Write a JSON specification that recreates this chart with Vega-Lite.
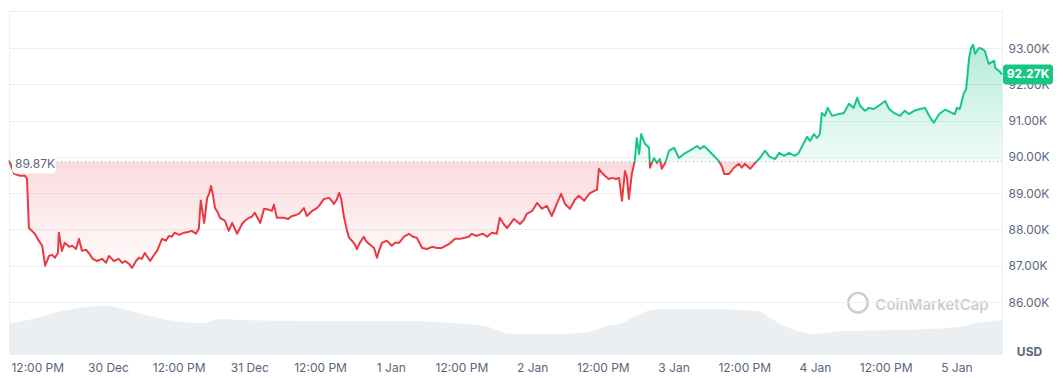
{
  "$schema": "https://vega.github.io/schema/vega-lite/v6.json",
  "padding": {"left": 7, "top": 10, "right": 0, "bottom": 0},
  "spacing": 0,
  "bounds": "flush",
  "background": "white",
  "config": {
    "view": {"stroke": "#eceff2"},
    "font": "Inter"
  },
  "datasets": {
    "price": [
      {"t":"2024-12-29T07:12:00Z","p":89.90},{"t":"2024-12-29T08:05:00Z","p":89.53},{"t":"2024-12-29T09:05:00Z","p":89.48},{"t":"2024-12-29T09:55:00Z","p":89.48},{"t":"2024-12-29T10:15:00Z","p":89.39},{"t":"2024-12-29T10:35:00Z","p":88.04},{"t":"2024-12-29T11:05:00Z","p":87.96},{"t":"2024-12-29T11:35:00Z","p":87.88},{"t":"2024-12-29T12:15:00Z","p":87.69},{"t":"2024-12-29T12:50:00Z","p":87.55},{"t":"2024-12-29T13:20:00Z","p":87.00},{"t":"2024-12-29T14:00:00Z","p":87.27},{"t":"2024-12-29T14:30:00Z","p":87.30},{"t":"2024-12-29T15:00:00Z","p":87.22},{"t":"2024-12-29T15:30:00Z","p":87.35},{"t":"2024-12-29T15:40:00Z","p":87.91},{"t":"2024-12-29T16:10:00Z","p":87.41},{"t":"2024-12-29T16:40:00Z","p":87.63},{"t":"2024-12-29T17:25:00Z","p":87.52},{"t":"2024-12-29T17:55:00Z","p":87.55},{"t":"2024-12-29T18:35:00Z","p":87.46},{"t":"2024-12-29T19:05:00Z","p":87.74},{"t":"2024-12-29T19:35:00Z","p":87.41},{"t":"2024-12-29T20:15:00Z","p":87.44},{"t":"2024-12-29T20:45:00Z","p":87.35},{"t":"2024-12-29T21:25:00Z","p":87.19},{"t":"2024-12-29T22:10:00Z","p":87.13},{"t":"2024-12-29T23:00:00Z","p":87.19},{"t":"2024-12-29T23:40:00Z","p":87.08},
      {"t":"2024-12-30T00:10:00Z","p":87.27},{"t":"2024-12-30T01:00:00Z","p":87.13},{"t":"2024-12-30T01:50:00Z","p":87.19},{"t":"2024-12-30T02:25:00Z","p":87.08},{"t":"2024-12-30T02:55:00Z","p":87.13},{"t":"2024-12-30T03:35:00Z","p":87.05},{"t":"2024-12-30T04:05:00Z","p":86.94},{"t":"2024-12-30T04:45:00Z","p":87.13},{"t":"2024-12-30T05:15:00Z","p":87.22},{"t":"2024-12-30T05:45:00Z","p":87.19},{"t":"2024-12-30T06:15:00Z","p":87.35},{"t":"2024-12-30T07:10:00Z","p":87.13},{"t":"2024-12-30T07:50:00Z","p":87.30},{"t":"2024-12-30T08:20:00Z","p":87.41},{"t":"2024-12-30T09:10:00Z","p":87.74},{"t":"2024-12-30T09:50:00Z","p":87.69},{"t":"2024-12-30T10:20:00Z","p":87.82},{"t":"2024-12-30T10:50:00Z","p":87.80},{"t":"2024-12-30T11:20:00Z","p":87.91},{"t":"2024-12-30T12:05:00Z","p":87.85},{"t":"2024-12-30T12:55:00Z","p":87.91},{"t":"2024-12-30T13:35:00Z","p":87.93},{"t":"2024-12-30T14:15:00Z","p":87.96},{"t":"2024-12-30T14:55:00Z","p":87.88},{"t":"2024-12-30T15:25:00Z","p":88.02},{"t":"2024-12-30T15:45:00Z","p":88.79},{"t":"2024-12-30T16:20:00Z","p":88.18},{"t":"2024-12-30T16:50:00Z","p":88.87},{"t":"2024-12-30T17:10:00Z","p":88.98},{"t":"2024-12-30T17:30:00Z","p":89.20},{"t":"2024-12-30T17:50:00Z","p":88.93},{"t":"2024-12-30T18:10:00Z","p":88.59},{"t":"2024-12-30T18:40:00Z","p":88.46},{"t":"2024-12-30T19:00:00Z","p":88.32},{"t":"2024-12-30T19:50:00Z","p":88.24},{"t":"2024-12-30T20:30:00Z","p":87.96},{"t":"2024-12-30T21:05:00Z","p":88.18},{"t":"2024-12-30T21:55:00Z","p":87.88},{"t":"2024-12-30T22:45:00Z","p":88.15},{"t":"2024-12-30T23:15:00Z","p":88.24},{"t":"2024-12-30T23:55:00Z","p":88.32},
      {"t":"2024-12-31T00:25:00Z","p":88.35},{"t":"2024-12-31T00:55:00Z","p":88.46},{"t":"2024-12-31T01:30:00Z","p":88.29},{"t":"2024-12-31T01:50:00Z","p":88.18},{"t":"2024-12-31T02:30:00Z","p":88.57},{"t":"2024-12-31T03:20:00Z","p":88.54},{"t":"2024-12-31T03:50:00Z","p":88.51},{"t":"2024-12-31T04:10:00Z","p":88.68},{"t":"2024-12-31T04:40:00Z","p":88.32},{"t":"2024-12-31T05:50:00Z","p":88.32},{"t":"2024-12-31T06:35:00Z","p":88.29},{"t":"2024-12-31T07:15:00Z","p":88.37},{"t":"2024-12-31T07:55:00Z","p":88.40},{"t":"2024-12-31T08:25:00Z","p":88.43},{"t":"2024-12-31T09:15:00Z","p":88.59},{"t":"2024-12-31T09:45:00Z","p":88.37},{"t":"2024-12-31T10:40:00Z","p":88.51},{"t":"2024-12-31T11:20:00Z","p":88.57},{"t":"2024-12-31T11:50:00Z","p":88.65},{"t":"2024-12-31T12:40:00Z","p":88.84},{"t":"2024-12-31T13:30:00Z","p":88.87},{"t":"2024-12-31T14:00:00Z","p":88.79},{"t":"2024-12-31T14:20:00Z","p":88.70},{"t":"2024-12-31T14:50:00Z","p":88.82},{"t":"2024-12-31T15:15:00Z","p":89.01},{"t":"2024-12-31T15:35:00Z","p":88.84},{"t":"2024-12-31T16:05:00Z","p":88.32},{"t":"2024-12-31T16:35:00Z","p":87.96},{"t":"2024-12-31T16:55:00Z","p":87.77},{"t":"2024-12-31T17:25:00Z","p":87.69},{"t":"2024-12-31T17:55:00Z","p":87.58},{"t":"2024-12-31T18:15:00Z","p":87.46},{"t":"2024-12-31T18:45:00Z","p":87.63},{"t":"2024-12-31T19:25:00Z","p":87.80},{"t":"2024-12-31T19:45:00Z","p":87.69},{"t":"2024-12-31T20:20:00Z","p":87.60},{"t":"2024-12-31T21:10:00Z","p":87.49},{"t":"2024-12-31T21:40:00Z","p":87.22},{"t":"2024-12-31T22:00:00Z","p":87.41},{"t":"2024-12-31T22:30:00Z","p":87.63},{"t":"2024-12-31T23:20:00Z","p":87.69},
      {"t":"2025-01-01T00:10:00Z","p":87.55},{"t":"2025-01-01T00:45:00Z","p":87.63},{"t":"2025-01-01T01:25:00Z","p":87.63},{"t":"2025-01-01T02:15:00Z","p":87.80},{"t":"2025-01-01T03:05:00Z","p":87.88},{"t":"2025-01-01T03:45:00Z","p":87.80},{"t":"2025-01-01T04:25:00Z","p":87.77},{"t":"2025-01-01T05:20:00Z","p":87.49},{"t":"2025-01-01T06:10:00Z","p":87.46},{"t":"2025-01-01T07:00:00Z","p":87.52},{"t":"2025-01-01T07:50:00Z","p":87.49},{"t":"2025-01-01T08:40:00Z","p":87.49},{"t":"2025-01-01T09:55:00Z","p":87.60},{"t":"2025-01-01T10:55:00Z","p":87.74},{"t":"2025-01-01T11:45:00Z","p":87.74},{"t":"2025-01-01T12:35:00Z","p":87.77},{"t":"2025-01-01T13:15:00Z","p":87.80},{"t":"2025-01-01T13:45:00Z","p":87.88},{"t":"2025-01-01T14:30:00Z","p":87.82},{"t":"2025-01-01T15:00:00Z","p":87.85},{"t":"2025-01-01T15:40:00Z","p":87.88},{"t":"2025-01-01T16:20:00Z","p":87.80},{"t":"2025-01-01T17:10:00Z","p":87.91},{"t":"2025-01-01T18:00:00Z","p":87.88},{"t":"2025-01-01T18:30:00Z","p":88.32},{"t":"2025-01-01T19:15:00Z","p":88.13},{"t":"2025-01-01T19:45:00Z","p":88.04},{"t":"2025-01-01T20:25:00Z","p":88.18},{"t":"2025-01-01T20:55:00Z","p":88.29},{"t":"2025-01-01T21:55:00Z","p":88.15},{"t":"2025-01-01T22:35:00Z","p":88.26},{"t":"2025-01-01T23:05:00Z","p":88.43},
      {"t":"2025-01-02T00:00:00Z","p":88.51},{"t":"2025-01-02T00:50:00Z","p":88.73},{"t":"2025-01-02T01:40:00Z","p":88.57},{"t":"2025-01-02T02:30:00Z","p":88.65},{"t":"2025-01-02T03:20:00Z","p":88.37},{"t":"2025-01-02T04:15:00Z","p":88.73},{"t":"2025-01-02T04:55:00Z","p":88.98},{"t":"2025-01-02T05:35:00Z","p":88.70},{"t":"2025-01-02T06:25:00Z","p":88.57},{"t":"2025-01-02T07:15:00Z","p":88.82},{"t":"2025-01-02T07:55:00Z","p":88.93},{"t":"2025-01-02T08:50:00Z","p":88.79},{"t":"2025-01-02T09:40:00Z","p":88.98},{"t":"2025-01-02T10:30:00Z","p":89.06},{"t":"2025-01-02T11:00:00Z","p":89.09},{"t":"2025-01-02T11:20:00Z","p":89.67},{"t":"2025-01-02T11:50:00Z","p":89.56},{"t":"2025-01-02T12:20:00Z","p":89.48},{"t":"2025-01-02T13:00:00Z","p":89.39},{"t":"2025-01-02T13:35:00Z","p":89.42},{"t":"2025-01-02T14:15:00Z","p":89.39},{"t":"2025-01-02T14:45:00Z","p":89.42},{"t":"2025-01-02T15:15:00Z","p":88.79},{"t":"2025-01-02T15:45:00Z","p":89.61},{"t":"2025-01-02T16:05:00Z","p":89.45},{"t":"2025-01-02T16:25:00Z","p":88.84},{"t":"2025-01-02T16:55:00Z","p":89.53},{"t":"2025-01-02T17:25:00Z","p":89.89},{"t":"2025-01-02T17:45:00Z","p":90.52},{"t":"2025-01-02T18:10:00Z","p":90.08},{"t":"2025-01-02T18:30:00Z","p":90.63},{"t":"2025-01-02T19:10:00Z","p":90.36},{"t":"2025-01-02T19:50:00Z","p":90.25},{"t":"2025-01-02T20:00:00Z","p":89.70},{"t":"2025-01-02T20:40:00Z","p":89.97},{"t":"2025-01-02T21:10:00Z","p":89.83},{"t":"2025-01-02T21:40:00Z","p":89.94},{"t":"2025-01-02T22:00:00Z","p":89.67},{"t":"2025-01-02T22:35:00Z","p":89.83},{"t":"2025-01-02T23:15:00Z","p":90.17},
      {"t":"2025-01-03T00:05:00Z","p":90.25},{"t":"2025-01-03T00:55:00Z","p":89.97},{"t":"2025-01-03T01:45:00Z","p":90.08},{"t":"2025-01-03T02:45:00Z","p":90.17},{"t":"2025-01-03T04:00:00Z","p":90.30},{"t":"2025-01-03T04:30:00Z","p":90.22},{"t":"2025-01-03T05:10:00Z","p":90.30},{"t":"2025-01-03T06:00:00Z","p":90.17},{"t":"2025-01-03T06:50:00Z","p":90.03},{"t":"2025-01-03T07:40:00Z","p":89.89},{"t":"2025-01-03T08:15:00Z","p":89.72},{"t":"2025-01-03T08:35:00Z","p":89.53},{"t":"2025-01-03T09:25:00Z","p":89.53},{"t":"2025-01-03T10:15:00Z","p":89.70},{"t":"2025-01-03T11:05:00Z","p":89.81},{"t":"2025-01-03T11:35:00Z","p":89.70},{"t":"2025-01-03T12:05:00Z","p":89.81},{"t":"2025-01-03T13:00:00Z","p":89.67},{"t":"2025-01-03T13:50:00Z","p":89.83},{"t":"2025-01-03T14:40:00Z","p":89.97},{"t":"2025-01-03T15:30:00Z","p":90.17},{"t":"2025-01-03T16:20:00Z","p":90.00},{"t":"2025-01-03T17:15:00Z","p":89.94},{"t":"2025-01-03T17:55:00Z","p":90.11},{"t":"2025-01-03T18:45:00Z","p":90.03},{"t":"2025-01-03T19:35:00Z","p":90.11},{"t":"2025-01-03T20:35:00Z","p":90.03},{"t":"2025-01-03T21:15:00Z","p":90.11},{"t":"2025-01-03T21:50:00Z","p":90.30},{"t":"2025-01-03T22:40:00Z","p":90.55},{"t":"2025-01-03T23:10:00Z","p":90.44},{"t":"2025-01-03T23:50:00Z","p":90.63},
      {"t":"2025-01-04T00:20:00Z","p":90.52},{"t":"2025-01-04T00:50:00Z","p":90.63},{"t":"2025-01-04T01:10:00Z","p":91.21},{"t":"2025-01-04T01:40:00Z","p":91.13},{"t":"2025-01-04T02:10:00Z","p":91.35},{"t":"2025-01-04T02:55:00Z","p":91.13},{"t":"2025-01-04T04:05:00Z","p":91.18},{"t":"2025-01-04T04:55:00Z","p":91.21},{"t":"2025-01-04T05:45:00Z","p":91.46},{"t":"2025-01-04T06:35:00Z","p":91.35},{"t":"2025-01-04T07:10:00Z","p":91.63},{"t":"2025-01-04T07:40:00Z","p":91.41},{"t":"2025-01-04T08:30:00Z","p":91.27},{"t":"2025-01-04T09:10:00Z","p":91.35},{"t":"2025-01-04T10:00:00Z","p":91.32},{"t":"2025-01-04T10:50:00Z","p":91.41},{"t":"2025-01-04T11:55:00Z","p":91.54},{"t":"2025-01-04T12:35:00Z","p":91.32},{"t":"2025-01-04T13:25:00Z","p":91.21},{"t":"2025-01-04T14:25:00Z","p":91.13},{"t":"2025-01-04T15:15:00Z","p":91.27},{"t":"2025-01-04T15:55:00Z","p":91.18},{"t":"2025-01-04T16:50:00Z","p":91.27},{"t":"2025-01-04T17:50:00Z","p":91.32},{"t":"2025-01-04T18:40:00Z","p":91.35},{"t":"2025-01-04T19:30:00Z","p":91.10},{"t":"2025-01-04T20:10:00Z","p":90.94},{"t":"2025-01-04T21:05:00Z","p":91.18},{"t":"2025-01-04T22:05:00Z","p":91.30},{"t":"2025-01-04T23:15:00Z","p":91.21},{"t":"2025-01-04T23:45:00Z","p":91.18},
      {"t":"2025-01-05T00:05:00Z","p":91.35},{"t":"2025-01-05T00:35:00Z","p":91.32},{"t":"2025-01-05T01:15:00Z","p":91.74},{"t":"2025-01-05T01:40:00Z","p":91.87},{"t":"2025-01-05T02:10:00Z","p":92.73},{"t":"2025-01-05T02:30:00Z","p":93.00},{"t":"2025-01-05T02:50:00Z","p":93.09},{"t":"2025-01-05T03:10:00Z","p":92.84},{"t":"2025-01-05T03:50:00Z","p":93.00},{"t":"2025-01-05T04:20:00Z","p":92.98},{"t":"2025-01-05T04:50:00Z","p":92.92},{"t":"2025-01-05T05:30:00Z","p":92.56},{"t":"2025-01-05T06:25:00Z","p":92.65},{"t":"2025-01-05T06:35:00Z","p":92.45},{"t":"2025-01-05T07:15:00Z","p":92.37},{"t":"2025-01-05T07:45:00Z","p":92.27}
    ],
    "volume": [
      {"t":"2024-12-29T07:12:00Z","v":18},{"t":"2024-12-29T11:05:00Z","v":21},{"t":"2024-12-29T16:10:00Z","v":25.8},{"t":"2024-12-29T20:25:00Z","v":28.2},{"t":"2024-12-29T23:30:00Z","v":28.8},{"t":"2024-12-30T03:15:00Z","v":26.4},{"t":"2024-12-30T05:45:00Z","v":24},{"t":"2024-12-30T11:20:00Z","v":19.8},{"t":"2024-12-30T15:55:00Z","v":18.6},{"t":"2024-12-30T18:50:00Z","v":21},{"t":"2024-12-30T22:45:00Z","v":20.4},{"t":"2024-12-31T08:55:00Z","v":19.8},{"t":"2024-12-31T17:25:00Z","v":19.8},{"t":"2025-01-01T03:35:00Z","v":19.8},{"t":"2025-01-01T10:25:00Z","v":18.6},{"t":"2025-01-01T16:00:00Z","v":16.8},{"t":"2025-01-01T20:35:00Z","v":12},{"t":"2025-01-02T05:05:00Z","v":12},{"t":"2025-01-02T10:10:00Z","v":13.8},{"t":"2025-01-02T12:40:00Z","v":16.8},{"t":"2025-01-02T15:15:00Z","v":18.6},{"t":"2025-01-02T18:10:00Z","v":24},{"t":"2025-01-02T21:30:00Z","v":27},{"t":"2025-01-03T04:50:00Z","v":27},{"t":"2025-01-03T14:10:00Z","v":25.8},{"t":"2025-01-03T16:40:00Z","v":21},{"t":"2025-01-03T20:05:00Z","v":15},{"t":"2025-01-04T00:00:00Z","v":12},{"t":"2025-01-04T04:35:00Z","v":13.8},{"t":"2025-01-04T14:45:00Z","v":14.4},{"t":"2025-01-05T00:05:00Z","v":16.2},{"t":"2025-01-05T03:30:00Z","v":18.6},{"t":"2025-01-05T07:45:00Z","v":20.4}
    ],
    "baseline": [{"t":"2024-12-29T07:12:00Z","p":89.87,"label":"89.87K"}],
    "last": [{"t":"2025-01-05T07:45:00Z","p":92.27,"label":"92.27K"}],
    "brand": [{"t":"2025-01-04T19:52:00Z","p":85.92,"label":"CoinMarketCap"}],
    "logo": [{"t":"2025-01-04T07:18:00Z","p":85.98}]
  },
  "vconcat": [
    {
      "width": 993,
      "height": 291,
      "encoding": {
        "x": {
          "field": "t", "type": "temporal",
          "scale": {"type": "utc", "domain": [{"year": 2024, "month": 12, "date": 29, "hours": 7, "minutes": 12, "utc": true}, {"year": 2025, "month": 1, "date": 5, "hours": 7, "minutes": 45, "utc": true}]},
          "axis": null
        },
        "y": {
          "field": "p", "type": "quantitative",
          "scale": {"domain": [86, 94.02], "zero": false, "nice": false},
          "axis": {
            "orient": "right",
            "values": [86, 87, 88, 89, 90, 91, 92, 93],
            "labelExpr": "format(datum.value, '.2f') + 'K'",
            "labelFont": "Inter", "labelFontSize": 12, "labelColor": "#58667e",
            "labelPadding": 6, "ticks": false, "domain": false,
            "grid": true, "gridColor": "#eceff2", "gridWidth": 1,
            "title": "USD", "titleAngle": 0, "titleAlign": "center", "titleBaseline": "middle",
            "titleX": 27, "titleY": 340, "titleFont": "Inter", "titleFontSize": 12,
            "titleFontWeight": "bold", "titleColor": "#58667e"
          }
        }
      },
      "layer": [
        {
          "data": {"name": "price"},
          "mark": {
            "type": "area",
            "fill": {
              "gradient": "linear", "x1": 0, "y1": 0, "x2": 0, "y2": 1,
              "stops": [
                {"offset": 0, "color": "rgba(22,199,132,0.32)"},
                {"offset": 0.5236, "color": "rgba(22,199,132,0.06)"},
                {"offset": 0.5236, "color": "rgba(234,57,67,0.18)"},
                {"offset": 1, "color": "rgba(234,57,67,0.02)"}
              ]
            }
          },
          "encoding": {"y2": {"datum": 89.87}}
        },
        {
          "data": {"name": "baseline"},
          "mark": {"type": "rule", "color": "#a9b0bc", "strokeDash": [1, 3], "strokeWidth": 1},
          "encoding": {"x": {"value": 0}, "x2": {"value": 993}}
        },
        {
          "data": {"name": "price"},
          "mark": {
            "type": "line", "strokeWidth": 2, "strokeJoin": "round",
            "stroke": {
              "gradient": "linear", "x1": 0, "y1": 0, "x2": 0, "y2": 1,
              "stops": [
                {"offset": 0, "color": "#16c784"},
                {"offset": 0.5236, "color": "#16c784"},
                {"offset": 0.5236, "color": "#ea3943"},
                {"offset": 1, "color": "#ea3943"}
              ]
            }
          },
          "encoding": {}
        },
        {
          "data": {"name": "baseline"},
          "mark": {"type": "rect", "fill": "white", "width": 44, "height": 20, "cornerRadius": 4, "xOffset": 25, "yOffset": 2, "clip": false},
          "encoding": {}
        },
        {
          "data": {"name": "baseline"},
          "mark": {"type": "text", "align": "left", "baseline": "middle", "xOffset": 6, "yOffset": 2, "font": "Inter", "fontSize": 12, "color": "#58667e", "clip": false},
          "encoding": {"text": {"field": "label"}}
        },
        {
          "data": {"name": "last"},
          "mark": {"type": "rect", "fill": "#16c784", "width": 50, "height": 20, "cornerRadius": 3, "xOffset": 26, "clip": false},
          "encoding": {}
        },
        {
          "data": {"name": "last"},
          "mark": {"type": "text", "align": "center", "baseline": "middle", "xOffset": 26, "font": "Inter", "fontSize": 12, "fontWeight": "bold", "color": "white", "clip": false},
          "encoding": {"text": {"field": "label"}}
        },
        {
          "data": {"name": "brand"},
          "mark": {"type": "text", "align": "center", "baseline": "middle", "font": "Inter", "fontSize": 15, "fontWeight": 600, "color": "#c9ced6", "clip": false},
          "encoding": {"text": {"field": "label"}}
        },
        {
          "data": {"name": "logo"},
          "mark": {"type": "point", "shape": "circle", "filled": false, "size": 380, "stroke": "#c9ced6", "strokeWidth": 2.5, "opacity": 1, "clip": false},
          "encoding": {}
        }
      ]
    },
    {
      "width": 993,
      "height": 52,
      "data": {"name": "volume"},
      "mark": {"type": "area", "color": "#eceff2", "interpolate": "monotone"},
      "encoding": {
        "x": {
          "field": "t", "type": "temporal",
          "scale": {"type": "utc", "domain": [{"year": 2024, "month": 12, "date": 29, "hours": 7, "minutes": 12, "utc": true}, {"year": 2025, "month": 1, "date": 5, "hours": 7, "minutes": 45, "utc": true}]},
          "axis": {
            "title": null,
            "values": [
              {"year": 2024, "month": 12, "date": 29, "hours": 12, "utc": true},
              {"year": 2024, "month": 12, "date": 30, "hours": 0, "utc": true},
              {"year": 2024, "month": 12, "date": 30, "hours": 12, "utc": true},
              {"year": 2024, "month": 12, "date": 31, "hours": 0, "utc": true},
              {"year": 2024, "month": 12, "date": 31, "hours": 12, "utc": true},
              {"year": 2025, "month": 1, "date": 1, "hours": 0, "utc": true},
              {"year": 2025, "month": 1, "date": 1, "hours": 12, "utc": true},
              {"year": 2025, "month": 1, "date": 2, "hours": 0, "utc": true},
              {"year": 2025, "month": 1, "date": 2, "hours": 12, "utc": true},
              {"year": 2025, "month": 1, "date": 3, "hours": 0, "utc": true},
              {"year": 2025, "month": 1, "date": 3, "hours": 12, "utc": true},
              {"year": 2025, "month": 1, "date": 4, "hours": 0, "utc": true},
              {"year": 2025, "month": 1, "date": 4, "hours": 12, "utc": true},
              {"year": 2025, "month": 1, "date": 5, "hours": 0, "utc": true}
            ],
            "labelExpr": "utchours(datum.value) == 12 ? '12:00 PM' : (utcdate(datum.value) + ' ' + utcFormat(datum.value, '%b'))",
            "labelFont": "Inter", "labelFontSize": 12, "labelColor": "#58667e",
            "labelPadding": 8, "ticks": false, "domain": false, "grid": false
          }
        },
        "y": {"field": "v", "type": "quantitative", "scale": {"domain": [0, 31.2]}, "axis": null}
      }
    }
  ]
}
